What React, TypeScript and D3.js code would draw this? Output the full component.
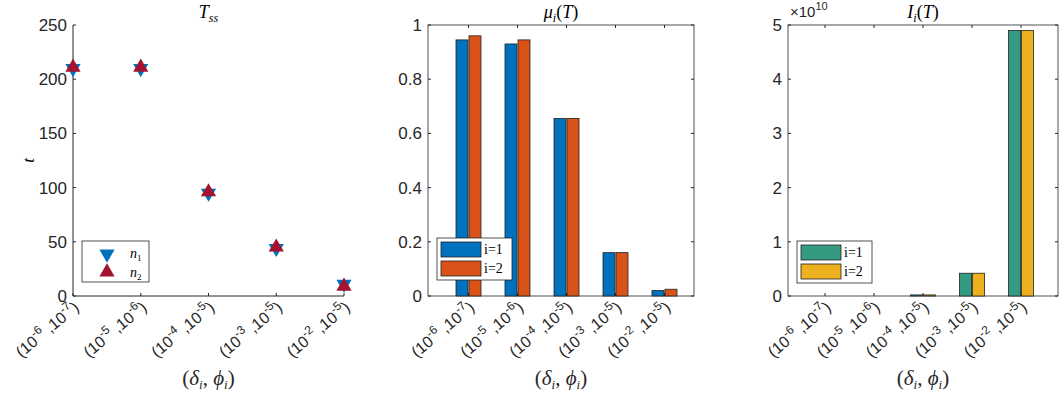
import React from "react";
import * as d3 from "d3";

const cats = [["-6", "-7"], ["-5", "-6"], ["-4", "-5"], ["-3", "-5"], ["-2", "-5"]];
const tssN1 = [210, 210, 95, 44, 11];
const tssN2 = [211, 211, 96, 45, 9];
const mu1 = [0.945, 0.93, 0.655, 0.16, 0.02];
const mu2 = [0.96, 0.945, 0.655, 0.16, 0.025];
const inf1 = [0, 0, 0.02, 0.42, 4.9];
const inf2 = [0, 0, 0.02, 0.42, 4.9];

const TOP = 25, BOT = 296;
const AX = "#262626";
const SANS = "'Liberation Sans', Arial, sans-serif";
const SERIF = "'Liberation Serif', 'Times New Roman', serif";

function CatLabels({ xs }: { xs: number[] }) {
  return <g>{cats.map((c, i) => (
    <text key={i} transform={`translate(${xs[i] + 7},${BOT + 13}) rotate(-40)`} textAnchor="end"
      fontFamily={SANS} fontSize={16} fill={AX}>
      (10<tspan dy={-7} fontSize={12}>{c[0]}</tspan><tspan dy={7}> ,10</tspan><tspan dy={-7} fontSize={12}>{c[1]}</tspan><tspan dy={7}>)</tspan>
    </text>
  ))}</g>;
}

function XLabel({ cx }: { cx: number }) {
  return <text x={cx} y={385} textAnchor="middle" fontFamily={SERIF} fontSize={21} fontStyle="italic" fill={AX}>
    <tspan fontStyle="normal">(</tspan>δ<tspan fontSize={13} dy={4}>i</tspan><tspan dy={-4} fontStyle="normal">, </tspan>ϕ<tspan fontSize={13} dy={4}>i</tspan><tspan dy={-4} fontStyle="normal">)</tspan>
  </text>;
}

function YTicks({ y, ticks, x0, x1, fmt, box }: { y: d3.ScaleLinear<number, number>, ticks: number[], x0: number, x1: number, fmt: (v: number) => string, box: boolean }) {
  return <g>{ticks.map(t => (
    <g key={t}>
      <line x1={x0} x2={x0 + 3} y1={y(t)} y2={y(t)} stroke={AX} />
      {box && <line x1={x1} x2={x1 - 3} y1={y(t)} y2={y(t)} stroke={AX} />}
      <text x={x0 - 6} y={y(t)} dy="0.35em" textAnchor="end" fontFamily={SANS} fontSize={17} fill={AX}>{fmt(t)}</text>
    </g>
  ))}</g>;
}

function Panel1() {
  const x0 = 73, x1 = 344;
  const x = d3.scalePoint<number>().domain(d3.range(5)).range([x0, x1]);
  const y = d3.scaleLinear([0, 250], [BOT, TOP]);
  const tri = d3.symbol().type(d3.symbolTriangle).size(100);
  const xs = d3.range(5).map(i => x(i)!);
  return <g>
    <line x1={x0} x2={x0} y1={TOP} y2={BOT} stroke={AX} />
    <line x1={x0} x2={x1} y1={BOT} y2={BOT} stroke={AX} />
    {xs.map((px, i) => <line key={i} x1={px} x2={px} y1={BOT} y2={BOT - 3} stroke={AX} />)}
    <YTicks y={y} ticks={d3.range(0, 251, 50)} x0={x0} x1={x1} fmt={String} box={false} />
    {tssN1.map((v, i) => <path key={"a" + i} d={tri()!} transform={`translate(${xs[i]},${y(v)}) rotate(180)`} fill="#0072BD" />)}
    {tssN2.map((v, i) => <path key={"b" + i} d={tri()!} transform={`translate(${xs[i]},${y(v)})`} fill="#A2142F" />)}
    <text x={(x0 + x1) / 2} y={18} textAnchor="middle" fontFamily={SERIF} fontStyle="italic" fontSize={18} fill="#000">T<tspan fontSize={12} dy={4}>ss</tspan></text>
    <text transform={`translate(34,${(TOP + BOT) / 2}) rotate(-90)`} textAnchor="middle" fontFamily={SERIF} fontStyle="italic" fontSize={17} fill="#000">t</text>
    <rect x={82} y={241} width={67} height={41} fill="#fff" stroke={AX} strokeWidth={0.8} />
    <path d={tri()!} transform={`translate(107,254) rotate(180)`} fill="#0072BD" />
    <path d={tri()!} transform={`translate(107,272)`} fill="#A2142F" />
    <text x={130} y={258} fontFamily={SERIF} fontStyle="italic" fontSize={14}>n<tspan fontSize={9} dy={3} fontStyle="normal">1</tspan></text>
    <text x={130} y={277} fontFamily={SERIF} fontStyle="italic" fontSize={14}>n<tspan fontSize={9} dy={3} fontStyle="normal">2</tspan></text>
    <CatLabels xs={xs} />
    <XLabel cx={(x0 + x1) / 2} />
  </g>;
}

function BarPanel({ x0, x1, first, s1, s2, c1, c2, yMax, ticks, fmt, title, exp, legY }: any) {
  const xs = d3.range(5).map(i => first + i * 49);
  const y = d3.scaleLinear([0, yMax], [BOT, TOP]);
  const bw = 12;
  return <g>
    <rect x={x0} y={TOP} width={x1 - x0} height={BOT - TOP} fill="none" stroke={AX} strokeWidth={0.8} />
    {xs.map((px, i) => <g key={i}>
      <line x1={px} x2={px} y1={BOT} y2={BOT - 3} stroke={AX} />
      <line x1={px} x2={px} y1={TOP} y2={TOP + 3} stroke={AX} />
    </g>)}
    <YTicks y={y} ticks={ticks} x0={x0} x1={x1} fmt={fmt} box={true} />
    {s1.map((v: number, i: number) => <rect key={"a" + i} x={xs[i] - bw - 0.5} y={y(v)} width={bw} height={BOT - y(v)} fill={c1} stroke="#222" strokeWidth={0.8} />)}
    {s2.map((v: number, i: number) => <rect key={"b" + i} x={xs[i] + 0.5} y={y(v)} width={bw} height={BOT - y(v)} fill={c2} stroke="#222" strokeWidth={0.8} />)}
    <text x={(x0 + x1) / 2} y={18} textAnchor="middle" fontFamily={SERIF} fontStyle="italic" fontSize={18} fill="#000">{title[0]}<tspan fontSize={12} dy={4}>i</tspan><tspan dy={-4} fontStyle="normal">(</tspan>{title[1]}<tspan fontStyle="normal">)</tspan></text>
    {exp && <text x={x0 + 2} y={17} fontFamily={SANS} fontSize={15} fill={AX}>×10<tspan dy={-7} fontSize={11}>10</tspan></text>}
    <rect x={x0 + 9} y={legY} width={75} height={42} fill="#fff" stroke={AX} strokeWidth={0.8} />
    <rect x={x0 + 13} y={legY + 4} width={40} height={15} fill={c1} stroke="#222" strokeWidth={0.8} />
    <rect x={x0 + 13} y={legY + 23} width={40} height={15} fill={c2} stroke="#222" strokeWidth={0.8} />
    <text x={x0 + 56} y={legY + 16} fontFamily={SERIF} fontSize={14}>i=1</text>
    <text x={x0 + 56} y={legY + 35} fontFamily={SERIF} fontSize={14}>i=2</text>
    <CatLabels xs={xs} />
    <XLabel cx={(x0 + x1) / 2} />
  </g>;
}

export default function App() {
  return <svg width={1062} height={403} style={{ position: "absolute", left: 0, top: 0, background: "#fff" }}>
    <Panel1 />
    <BarPanel x0={428} x1={694} first={468.5} s1={mu1} s2={mu2} c1="#0072BD" c2="#D95319" yMax={1}
      ticks={d3.range(0, 1.01, 0.2).map(v => +v.toFixed(1))} fmt={String}
      title={["μ", "T"]} exp={false} legY={238} />
    <BarPanel x0={788} x1={1058} first={825} s1={inf1} s2={inf2} c1="#359A82" c2="#EDB120" yMax={5}
      ticks={d3.range(0, 6)} fmt={String} title={["I", "T"]} exp={true} legY={241} />
  </svg>;
}
